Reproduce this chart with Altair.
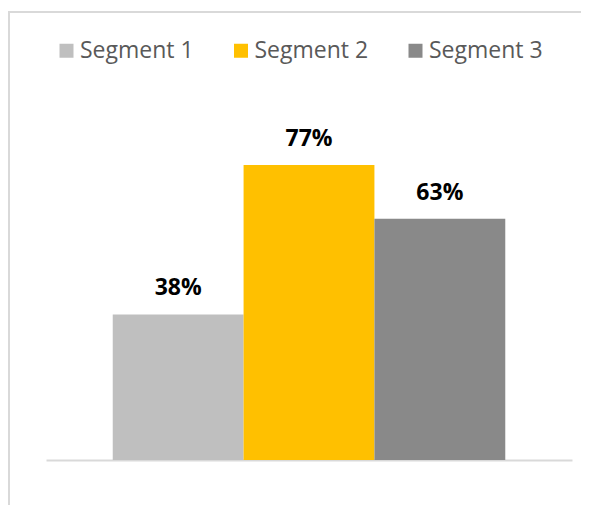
import altair as alt
import pandas as pd

segments = ["Segment 1", "Segment 2", "Segment 3"]
values = [0.38, 0.77, 0.63]
colors = ["#BFBFBF", "#FFC000", "#898989"]

df = pd.DataFrame({"segment": segments, "value": values})
one = pd.DataFrame({"a": [0]})

FONT = "Open Sans"
PL, PT, PR, PB = 38, 69, 9, 45
W, H = 526, 383

xscale = alt.Scale(domain=segments, paddingInner=0, paddingOuter=0.51)
yscale = alt.Scale(domain=[0, 1])

border_top = alt.Chart(one).mark_rule(color="#D9D9D9", strokeWidth=2).encode(
    x=alt.value(-PL), x2=alt.value(W + PR), y=alt.value(4 - PT)
)
border_left = alt.Chart(one).mark_rule(color="#D9D9D9", strokeWidth=2).encode(
    x=alt.value(1 - PL), y=alt.value(3 - PT), y2=alt.value(H + PB)
)

xaxis = alt.Axis(
    title=None, labels=False, ticks=False, grid=False,
    domain=True, domainColor="#D9D9D9", domainWidth=2,
)

bars = alt.Chart(df).mark_bar().encode(
    x=alt.X("segment:N", scale=xscale, axis=xaxis, sort=segments),
    y=alt.Y("value:Q", scale=yscale, axis=None),
    color=alt.Color(
        "segment:N",
        scale=alt.Scale(domain=segments, range=colors),
        legend=alt.Legend(
            orient="none",
            legendX=9,
            legendY=-38,
            direction="horizontal",
            title=None,
            symbolType="square",
            symbolSize=196,
            symbolStrokeWidth=0,
            symbolOpacity=1,
            labelFont=FONT,
            labelFontSize=23,
            labelColor="#595959",
            labelOffset=2,
            columnPadding=35.5,
            padding=0,
            offset=0,
        ),
    ),
)

labels = alt.Chart(df).mark_text(
    dy=-19, baseline="alphabetic", font=FONT, fontSize=23, fontWeight="bold", color="#000000"
).encode(
    x=alt.X("segment:N", scale=xscale, sort=segments),
    y=alt.Y("value:Q", scale=yscale),
    text=alt.Text("value:Q", format=".0%"),
)

chart = alt.layer(border_top, border_left, bars, labels).properties(
    width=W, height=H,
    padding={"left": PL, "top": PT, "right": PR, "bottom": PB},
    autosize=alt.AutoSizeParams(type="none"),
    background="white",
).configure_view(stroke=None)

chart.save("out.html", embed_options={"renderer": "svg", "actions": False})
